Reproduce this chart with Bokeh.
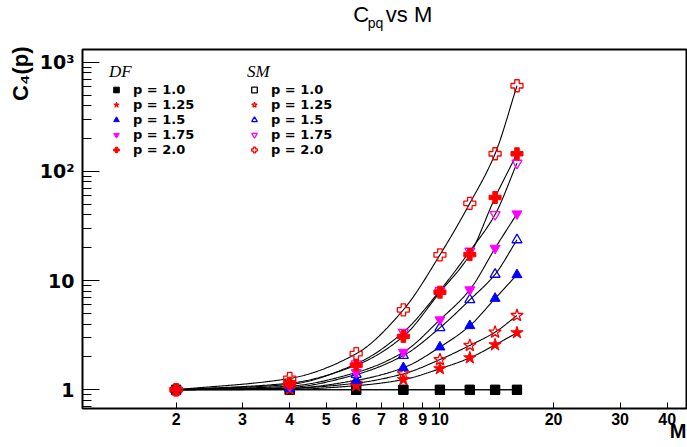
import numpy as np
from bokeh.plotting import figure
from bokeh.layouts import column
from bokeh.models import (Range1d, FixedTicker, BasicTickFormatter, Label, Legend,
                          LegendItem, Title)
from bokeh.embed import file_html
from bokeh.resources import INLINE

# ---------------- data ----------------
M = [2, 4, 6, 8, 10, 12, 14, 16]
P_LABELS = ["p = 1.0", "p = 1.25", "p = 1.5", "p = 1.75", "p = 2.0"]

DF_P100 = [1.0, 1.0, 1.0, 1.0, 1.0, 1.0, 1.0, 1.0]
DF_P125 = [1.0, 1.01, 1.09, 1.24, 1.56, 1.96, 2.58, 3.33]
DF_P150 = [1.0, 1.03, 1.22, 1.59, 2.46, 3.86, 6.86, 11.3]
DF_P175 = [1.0, 1.08, 1.44, 2.21, 4.38, 8.24, 19.8, 40.9]
DF_P200 = [1.0, 1.15, 1.68, 3.08, 7.83, 17.3, 57.7, 145.0]

SM_P100 = [1.0, 1.0, 1.0, 1.0, 1.0, 1.0, 1.0, 1.0]
SM_P125 = [1.0, 1.03, 1.15, 1.40, 1.89, 2.55, 3.37, 4.79]
SM_P150 = [1.0, 1.05, 1.38, 2.06, 3.70, 6.67, 11.4, 23.6]
SM_P175 = [1.0, 1.12, 1.73, 3.37, 8.1, 18.6, 40.3, 119.0]
SM_P200 = [1.0, 1.27, 2.14, 5.4, 17.2, 51.0, 145.0, 608.0]

X_TICKS = [2, 3, 4, 5, 6, 7, 8, 9, 10, 20, 30, 40]
Y_TICKS = [1, 10, 100, 1000]
Y_TICK_LABELS = ["1", "10", "10\u00b2", "10\u00b3"]

# ---------------- layout (canvas pixels) ----------------
W, H = 687, 447
TOP_H = 46          # title strip height
FL, FR, FT, FB = 82, 686, 49, 408   # frame edges

SANS = "Liberation Sans"
WIDE = "DejaVu Sans"

# ---------------- title strip: "C_pq vs M" ----------------
top = figure(width=W, height=TOP_H, x_range=Range1d(0, W), y_range=Range1d(0, TOP_H),
             x_axis_location=None, y_axis_location=None, toolbar_location=None,
             output_backend="svg", min_border=0, outline_line_color=None)
top.grid.visible = False
top.title.visible = False
top.background_fill_color = "white"
top.border_fill_color = "white"
# default text_baseline is "bottom": y is the bottom of the text box
top.add_layout(Label(x=308, y=19.3, text="C", text_font=SANS,
                     text_font_size="22px", text_color="black"))
top.add_layout(Label(x=324.5, y=16, text="pq", text_font=SANS,
                     text_font_size="14px", text_color="black"))
top.add_layout(Label(x=345, y=19.3, text="vs M", text_font=SANS,
                     text_font_size="22px", text_color="black"))

# ---------------- main plot ----------------
PH = H - TOP_H
p = figure(width=W, height=PH, x_axis_type="log", y_axis_type="log",
           x_range=Range1d(1.13, 45), y_range=Range1d(0.674, 1306),
           output_backend="svg", toolbar_location=None,
           min_border_left=FL, min_border_right=W - FR,
           min_border_top=FT - TOP_H, min_border_bottom=H - FB)
p.title.visible = False
p.grid.visible = False
p.outline_line_color = "black"
p.outline_line_width = 2
p.background_fill_color = "white"
p.border_fill_color = "white"

# x axis
p.xaxis.ticker = FixedTicker(ticks=X_TICKS)
p.xaxis.formatter = BasicTickFormatter()
p.xaxis.axis_line_color = None
p.xaxis.major_tick_in = 6
p.xaxis.major_tick_out = 0
p.xaxis.minor_tick_in = 0
p.xaxis.minor_tick_out = 0
p.xaxis.major_tick_line_color = "black"
p.xaxis.major_label_standoff = 4
p.xaxis.major_label_text_font = SANS
p.xaxis.major_label_text_font_style = "bold"
p.xaxis.major_label_text_font_size = "16px"
p.xaxis.major_label_text_color = "black"

# y axis
minor = [m * 10.0 ** k for k in range(-1, 4) for m in range(2, 10)]
p.yaxis.ticker = FixedTicker(ticks=Y_TICKS, minor_ticks=minor)
p.yaxis.formatter = BasicTickFormatter()
p.yaxis.major_label_overrides = {t: l for t, l in zip(Y_TICKS, Y_TICK_LABELS)}
p.yaxis.axis_line_color = None
p.yaxis.major_tick_in = 17
p.yaxis.major_tick_out = 0
p.yaxis.minor_tick_in = 9
p.yaxis.minor_tick_out = 0
p.yaxis.major_tick_line_color = "black"
p.yaxis.minor_tick_line_color = "black"
p.yaxis.major_label_standoff = 8
p.yaxis.major_label_text_font = WIDE
p.yaxis.major_label_text_font_style = "bold"
p.yaxis.major_label_text_font_size = "19px"
p.yaxis.major_label_text_color = "black"

# x-axis title "M" at the right end, below the tick labels
p.add_layout(Title(text="M", align="right", vertical_align="top", standoff=-16, offset=0,
                   text_font=SANS, text_font_style="bold", text_font_size="20px",
                   text_color="black"), "below")
# y-axis title "C4(p)" at the top, left of the tick labels
p.add_layout(Title(text="C\u2084(p)", align="right", vertical_align="bottom", standoff=8,
                   offset=-3, text_font=SANS, text_font_style="bold",
                   text_font_size="22px", text_color="black"), "left")


def pchip(x, y, xs):
    x = np.asarray(x, float); y = np.asarray(y, float)
    h = np.diff(x); d = np.diff(y) / h
    n = len(x); m = np.zeros(n)
    for i in range(1, n - 1):
        if d[i - 1] * d[i] > 0:
            w1 = 2 * h[i] + h[i - 1]; w2 = h[i] + 2 * h[i - 1]
            m[i] = (w1 + w2) / (w1 / d[i - 1] + w2 / d[i])
    m[0] = d[0]; m[-1] = d[-1]
    idx = np.clip(np.searchsorted(x, xs) - 1, 0, n - 2)
    t = (xs - x[idx]) / h[idx]
    h00 = 2 * t**3 - 3 * t**2 + 1; h10 = t**3 - 2 * t**2 + t
    h01 = -2 * t**3 + 3 * t**2; h11 = t**3 - t**2
    return h00 * y[idx] + h10 * h[idx] * m[idx] + h01 * y[idx + 1] + h11 * h[idx] * m[idx + 1]


def curve(vals):
    lx = np.log(np.asarray(M, float))
    ly = np.log(np.asarray(vals, float))
    xs = np.linspace(lx[0], lx[-1], 300)
    return np.exp(xs), np.exp(pchip(lx, ly, xs))

series = [
    ("DF", DF_P100, "square", "black", True, 9),
    ("DF", DF_P125, "star", "red", True, 13),
    ("DF", DF_P150, "triangle", "blue", True, 10),
    ("DF", DF_P175, "inverted_triangle", "magenta", True, 10),
    ("DF", DF_P200, "plus", "red", True, 12),
    ("SM", SM_P100, "square", "black", False, 9),
    ("SM", SM_P125, "star", "red", False, 13),
    ("SM", SM_P150, "triangle", "blue", False, 10),
    ("SM", SM_P175, "inverted_triangle", "magenta", False, 10),
    ("SM", SM_P200, "plus", "red", False, 12),
]

for _, vals, *_rest in series:
    cx, cy = curve(vals)
    p.line(cx, cy, line_color="black", line_width=1.1)

items = {"DF": [], "SM": []}
order = [5, 6, 7, 8, 9, 0, 1, 2, 3, 4]
rends = [None] * len(series)
for i in order:
    grp, vals, marker, color, filled, size = series[i]
    if filled:
        r = p.scatter(M, vals, marker=marker, size=size, fill_color=color,
                      line_color=color, line_width=1)
    else:
        r = p.scatter(M, vals, marker=marker, size=size, fill_color="white", fill_alpha=0,
                      line_color=color, line_width=1.3)
    rends[i] = r
for i, (grp, *_r) in enumerate(series):
    items[grp].append(LegendItem(label=P_LABELS[i % 5], renderers=[rends[i]]))

ROW_H = 15
TITLE_H = 19
TITLE_SO = -5


def make_legend(title, its, left_cx, top_cy):
    lg = Legend(items=its, title=title,
                title_text_font="Liberation Serif", title_text_font_style="italic",
                title_text_font_size="17px", title_text_color="black",
                title_standoff=TITLE_SO,
                label_text_font=WIDE, label_text_font_style="bold",
                label_text_font_size="13px", label_text_color="black",
                label_height=ROW_H, glyph_height=ROW_H, glyph_width=14, label_standoff=10,
                spacing=0, padding=0, margin=0,
                border_line_alpha=0, background_fill_alpha=0)
    height = TITLE_H + TITLE_SO + 5 * ROW_H
    lg.location = (left_cx - FL, FB - (top_cy + height))
    return lg

p.add_layout(make_legend("DF", items["DF"], 109, 68))
p.add_layout(make_legend("SM", items["SM"], 247, 68))

layout = column(top, p, spacing=0)
open("out.html", "w").write(file_html(layout, INLINE))
